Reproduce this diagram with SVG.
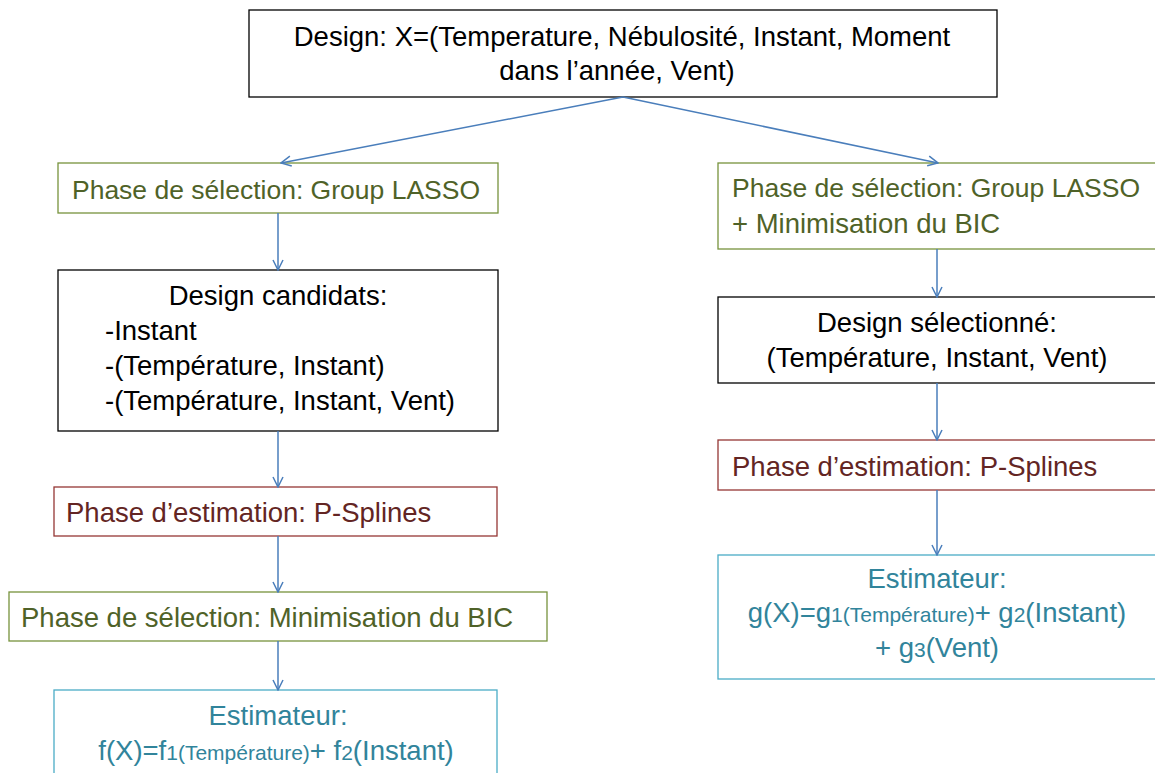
<svg xmlns="http://www.w3.org/2000/svg" width="1155" height="773" viewBox="0 0 1155 773">
<defs>
<marker id="arr" viewBox="0 0 12 12" refX="11" refY="6" markerWidth="12" markerHeight="12" markerUnits="userSpaceOnUse" orient="auto">
<path d="M1,1 L11,6 L1,11" fill="none" stroke="#4A7EBB" stroke-width="1.5"/>
</marker>
<style>
text{font-family:"Liberation Sans",Arial,sans-serif;font-size:27.5px}
.box{fill:#fff;stroke-width:1.3}
.blk{stroke:#000}
.grn{stroke:#77933C}
.red{stroke:#953735}
.tea{stroke:#4BACC6}
.tb{fill:#000}
.tg{fill:#4F6228}
.tr{fill:#632523}
.tt{fill:#31849B}
.c{text-anchor:middle}
.s{font-size:21px}
.lasso{font-size:26.5px}
.conn line{stroke:#4A7EBB;stroke-width:1.5;marker-end:url(#arr)}
</style>
</defs>
<rect width="1155" height="773" fill="#fff"/>
<g id="top">
<rect class="box blk" x="249" y="10" width="748" height="87"/>
<text class="tb c" x="622" y="46">Design: X=(Temperature, Nébulosité, Instant, Moment</text>
<text class="tb c" x="617" y="80">dans l’année, Vent)</text>
</g>
<g id="l1">
<rect class="box grn" x="58" y="163" width="440" height="50"/>
<text class="tg c lasso" x="276" y="199">Phase de sélection: Group LASSO</text>
</g>
<g id="l2">
<rect class="box blk" x="58" y="270" width="440" height="161"/>
<text class="tb c" x="278" y="305">Design candidats:</text>
<text class="tb" x="105" y="340">-Instant</text>
<text class="tb" x="105" y="375">-(Température, Instant)</text>
<text class="tb" x="105" y="410">-(Température, Instant, Vent)</text>
</g>
<g id="l3">
<rect class="box red" x="54" y="487" width="443" height="49"/>
<text class="tr" x="66" y="522">Phase d’estimation: P-Splines</text>
</g>
<g id="l4">
<rect class="box grn" x="9" y="592" width="538" height="49"/>
<text class="tg" x="21" y="627">Phase de sélection: Minimisation du BIC</text>
</g>
<g id="l5">
<rect class="box tea" x="54" y="690" width="443" height="100"/>
<text class="tt c" x="278" y="725">Estimateur:</text>
<text class="tt c" x="276" y="760">f(X)=f<tspan class="s">1(Température)</tspan>+ f<tspan class="s">2</tspan>(Instant)</text>
</g>
<g id="r1">
<rect class="box grn" x="718" y="163" width="442" height="86"/>
<text class="tg lasso" x="732" y="197">Phase de sélection: Group LASSO</text>
<text class="tg" x="732" y="233">+ Minimisation du BIC</text>
</g>
<g id="r2">
<rect class="box blk" x="718" y="297" width="442" height="86"/>
<text class="tb c" x="937" y="332">Design sélectionné:</text>
<text class="tb c" x="937" y="367">(Température, Instant, Vent)</text>
</g>
<g id="r3">
<rect class="box red" x="718" y="440" width="442" height="50"/>
<text class="tr" x="732" y="476">Phase d’estimation: P-Splines</text>
</g>
<g id="r4">
<rect class="box tea" x="718" y="555" width="442" height="124"/>
<text class="tt c" x="937" y="588">Estimateur:</text>
<text class="tt c" x="937" y="622">g(X)=g<tspan class="s">1(Température)</tspan>+ g<tspan class="s">2</tspan>(Instant)</text>
<text class="tt c" x="937" y="657">+ g<tspan class="s">3</tspan>(Vent)</text>
</g>
<g id="connectors" class="conn">
<line x1="623" y1="97" x2="281" y2="163"/>
<line x1="623" y1="97" x2="938" y2="163"/>
<line x1="278" y1="213" x2="278" y2="270"/>
<line x1="278" y1="431" x2="278" y2="487"/>
<line x1="278" y1="536" x2="278" y2="592"/>
<line x1="278" y1="641" x2="278" y2="690"/>
<line x1="937" y1="249" x2="937" y2="297"/>
<line x1="937" y1="383" x2="937" y2="440"/>
<line x1="937" y1="490" x2="937" y2="555"/>
</g>
</svg>
